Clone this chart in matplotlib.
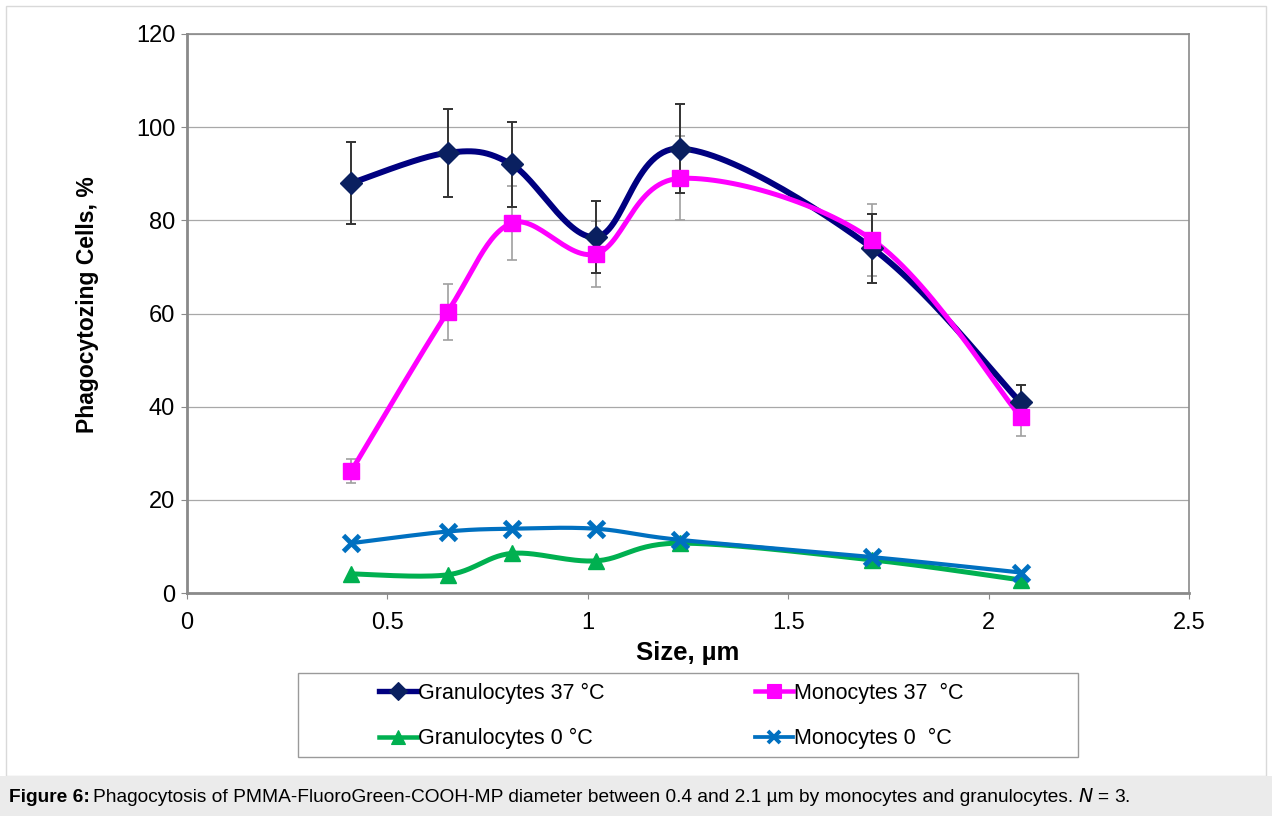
import numpy as np
import matplotlib
matplotlib.use("Agg")
import matplotlib.pyplot as plt
from matplotlib.patches import Rectangle
from matplotlib.lines import Line2D

plt.rcParams['font.family'] = ['Liberation Sans', 'DejaVu Sans']

size_um = [0.41, 0.65, 0.81, 1.02, 1.23, 1.71, 2.08]
gran37 = [88.0, 94.5, 92.0, 76.4, 95.4, 74.0, 40.9]
gran37_err = [8.8, 9.5, 9.2, 7.7, 9.5, 7.4, 3.8]
mono37 = [26.2, 60.3, 79.4, 72.8, 89.0, 75.8, 37.8]
mono37_err = [2.5, 6.0, 8.0, 7.1, 9.0, 7.8, 4.0]
gran0 = [4.1, 3.9, 8.5, 6.9, 10.7, 7.1, 2.8]
mono0 = [10.7, 13.2, 13.8, 13.8, 11.4, 7.7, 4.4]

labels = ['Granulocytes 37 °C', 'Monocytes 37  °C', 'Granulocytes 0 °C', 'Monocytes 0  °C']


def smooth(x, y, n=30):
    # excel-like smoothed line: cubic bezier, control points from neighbours
    p = np.column_stack([x, y]).astype(float)
    out = [p[0]]
    for i in range(len(p) - 1):
        p0 = p[i - 1] if i > 0 else p[i]
        p1 = p[i]
        p2 = p[i + 1]
        p3 = p[i + 2] if i + 2 < len(p) else p[i + 1]
        c1 = p1 + (p2 - p0) / 6.0
        c2 = p2 - (p3 - p1) / 6.0
        t = np.linspace(0, 1, n)[1:, None]
        seg = ((1 - t) ** 3) * p1 + 3 * ((1 - t) ** 2) * t * c1 + 3 * (1 - t) * t ** 2 * c2 + t ** 3 * p2
        out.extend(seg)
    out = np.array(out)
    return out[:, 0], out[:, 1]


fig = plt.figure(figsize=(12.72, 8.16), dpi=100)

# outer frame and caption band
fig.patches.append(Rectangle((6 / 1272, 40 / 816), 1260 / 1272, 770 / 816, transform=fig.transFigure,
                             fill=False, edgecolor='#d9d9d9', lw=1.0, zorder=0))
fig.patches.append(Rectangle((0, 0), 1, 40 / 816, transform=fig.transFigure,
                             facecolor='#ebebeb', edgecolor='none', zorder=0))
cap = fig.text(9 / 1272, 19 / 816, 'Figure 6:', fontsize=13.8, fontweight='bold', va='center', ha='left')
fig.canvas.draw()
bb = cap.get_window_extent()
t2 = fig.text((bb.x1 + 3) / 1272, 19 / 816,
              'Phagocytosis of PMMA-FluoroGreen-COOH-MP diameter between 0.4 and 2.1 µm by monocytes and granulocytes. ',
              fontsize=13.8, va='center', ha='left')
fig.canvas.draw()
bb2 = t2.get_window_extent()
fig.text(bb2.x1 / 1272, 19 / 816, r'$N$ = 3.', fontsize=13.8, va='center', ha='left')

ax = fig.add_axes([187 / 1272, 1 - 593 / 816, (1189 - 187) / 1272, (593 - 34) / 816])

# error bars
ax.errorbar(size_um, mono37, yerr=mono37_err, fmt='none', ecolor='#a0a0a0', elinewidth=1.2,
            capsize=3.5, capthick=1.2, zorder=2)
ax.errorbar(size_um, gran37, yerr=gran37_err, fmt='none', ecolor='#333333', elinewidth=1.4,
            capsize=3.5, capthick=1.4, zorder=3)

series = [
    (gran37, '#000080', 4.3, 'D', '#0a2060', 11, 1),
    (mono37, '#ff00ff', 3.6, 's', '#ff00ff', 12, 1),
    (gran0, '#00b050', 3.6, '^', '#00b050', 12, 1),
    (mono0, '#0070c0', 3.0, 'x', '#0070c0', 11, 3.5),
]
handles = []
for (vals, col, lw, mk, mcol, ms, mew), lab in zip(series, labels):
    sx, sy = smooth(size_um, vals)
    ax.plot(sx, sy, color=col, lw=lw, solid_capstyle='round', zorder=4)
    ax.plot(size_um, vals, ls='none', marker=mk, color=mcol, mec=mcol, ms=ms, mew=mew, zorder=5)
    handles.append(Line2D([], [], color=col, lw=lw * 0.9, marker=mk, mfc=mcol, mec=mcol,
                          ms=ms * 0.8, mew=mew * 0.8, label=lab))

ax.set_xlim(0, 2.5)
ax.set_ylim(0, 120)
ax.set_xticks([0, 0.5, 1, 1.5, 2, 2.5])
ax.set_xticklabels(['0', '0.5', '1', '1.5', '2', '2.5'])
ax.set_yticks(range(0, 121, 20))
ax.yaxis.grid(True, color='#a8a8a8', lw=0.9)
ax.set_axisbelow(True)
for s in ax.spines.values():
    s.set_color('#8a8a8a')
    s.set_linewidth(1.2)
ax.spines['left'].set_linewidth(2)
ax.spines['bottom'].set_linewidth(2)
ax.tick_params(labelsize=17, length=4.5, color='#8a8a8a')
ax.tick_params(axis='y', pad=4)
ax.tick_params(axis='x', pad=9)
ax.set_xlabel('Size, µm', fontsize=18.5, fontweight='bold', labelpad=5)
ax.set_ylabel('Phagocytozing Cells, %', fontsize=16.5, fontweight='bold')
ax.yaxis.set_label_coords(-0.088, 0.515)

# legend with a separate frame
fig.patches.append(Rectangle((298 / 1272, 1 - 757 / 816), 780 / 1272, 84 / 816, transform=fig.transFigure,
                             fill=False, edgecolor='#9a9a9a', lw=1.0))
order = [0, 2, 1, 3]
fig.legend(handles=[handles[i] for i in order], ncol=2, loc='center', bbox_to_anchor=(671 / 1272, 1 - 716 / 816),
           frameon=False, fontsize=15.5, handlelength=1.75, handletextpad=0.05,
           columnspacing=7.0, labelspacing=1.12)

fig.savefig('out.png', dpi=100)
